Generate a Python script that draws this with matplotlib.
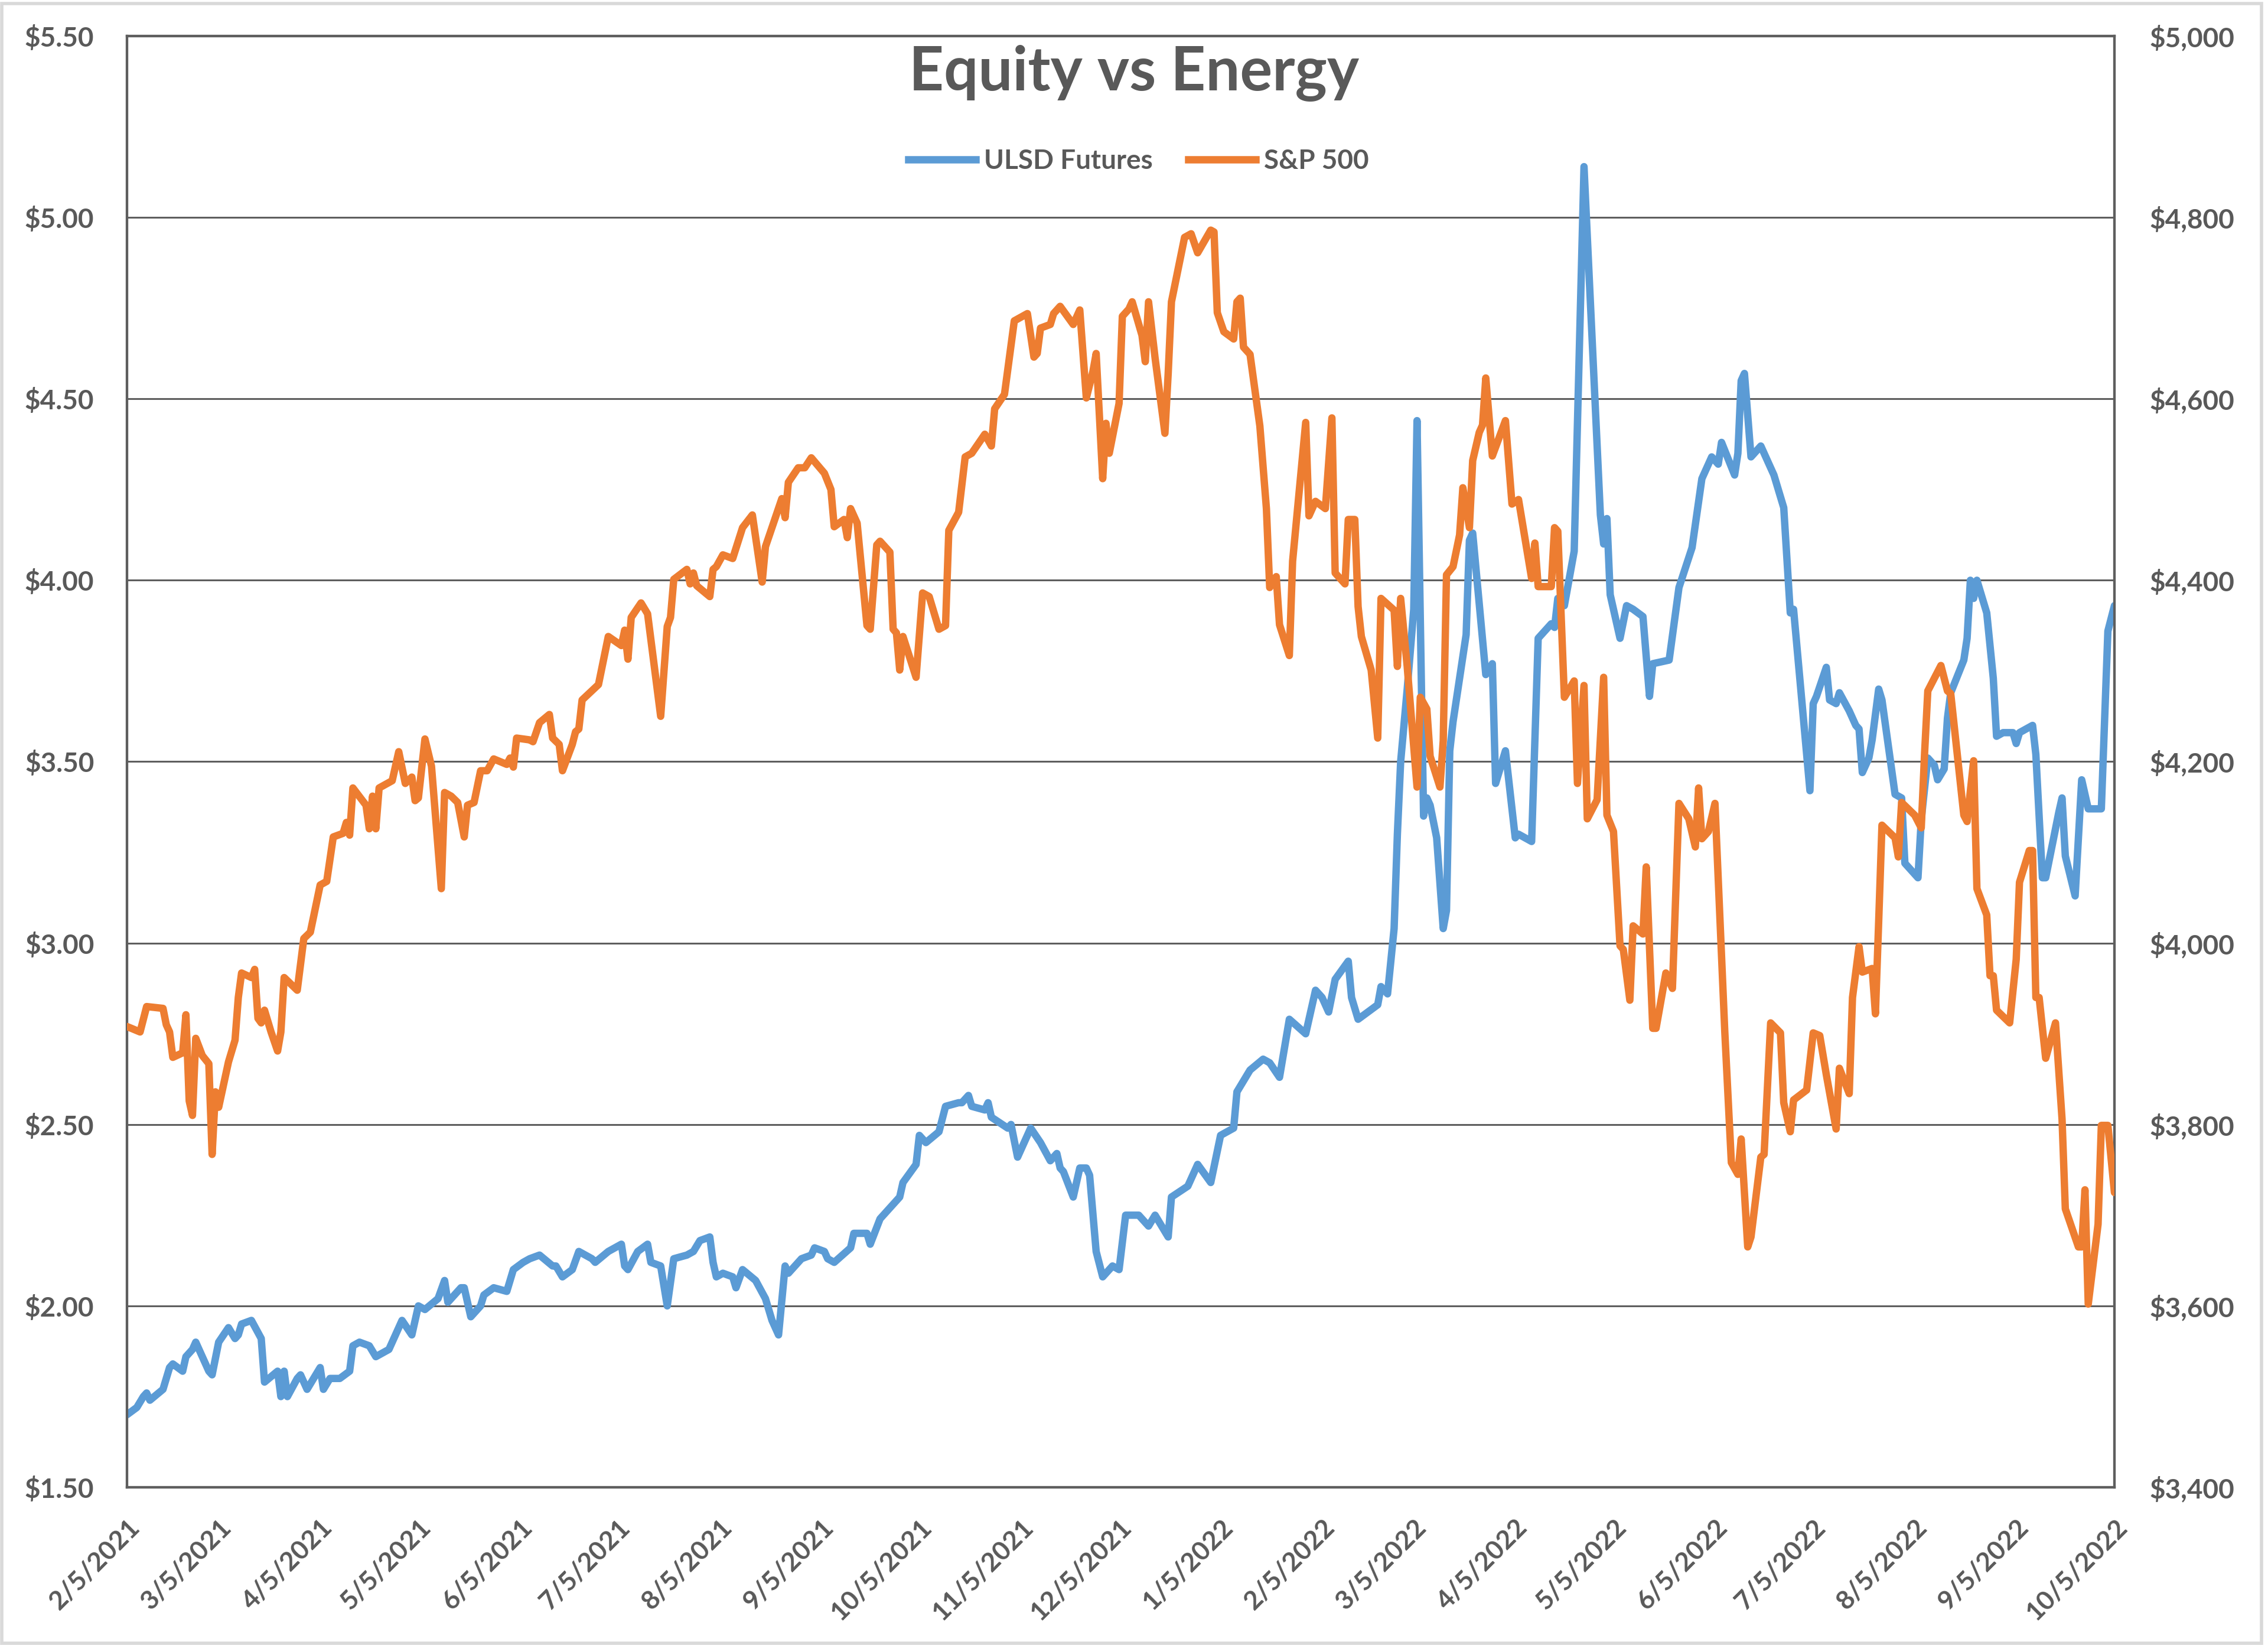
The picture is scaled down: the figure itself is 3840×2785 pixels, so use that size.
import matplotlib
matplotlib.use("Agg")
import matplotlib.pyplot as plt
import matplotlib.ticker as mticker
from matplotlib.lines import Line2D
from matplotlib.patches import Rectangle
import pandas as pd

# ---------------- data ----------------
title = "Equity vs Energy"
series_names = ["ULSD Futures", "S&P 500"]

ulsd_dates = [
    "2021-02-05", "2021-02-08", "2021-02-10", "2021-02-11", "2021-02-12", "2021-02-16", "2021-02-18",
    "2021-02-19", "2021-02-22", "2021-02-23", "2021-02-25", "2021-02-26", "2021-02-28", "2021-03-02",
    "2021-03-03", "2021-03-05", "2021-03-08", "2021-03-10", "2021-03-11", "2021-03-12", "2021-03-15",
    "2021-03-18", "2021-03-19", "2021-03-23", "2021-03-24", "2021-03-25", "2021-03-26", "2021-03-29",
    "2021-03-30", "2021-04-01", "2021-04-05", "2021-04-06", "2021-04-08", "2021-04-11", "2021-04-14",
    "2021-04-15", "2021-04-17", "2021-04-20", "2021-04-22", "2021-04-26", "2021-04-30", "2021-05-03",
    "2021-05-05", "2021-05-07", "2021-05-11", "2021-05-13", "2021-05-14", "2021-05-18", "2021-05-19",
    "2021-05-21", "2021-05-24", "2021-05-25", "2021-05-28", "2021-06-01", "2021-06-03", "2021-06-06",
    "2021-06-08", "2021-06-11", "2021-06-15", "2021-06-16", "2021-06-18", "2021-06-21", "2021-06-23",
    "2021-06-27", "2021-06-28", "2021-07-02", "2021-07-06", "2021-07-07", "2021-07-08", "2021-07-11",
    "2021-07-14", "2021-07-15", "2021-07-18", "2021-07-20", "2021-07-22", "2021-07-26", "2021-07-28",
    "2021-07-30", "2021-08-02", "2021-08-03", "2021-08-04", "2021-08-06", "2021-08-09", "2021-08-10",
    "2021-08-12", "2021-08-16", "2021-08-19", "2021-08-21", "2021-08-23", "2021-08-25", "2021-08-26",
    "2021-08-29", "2021-08-30", "2021-09-02", "2021-09-03", "2021-09-06", "2021-09-07", "2021-09-09",
    "2021-09-14", "2021-09-15", "2021-09-19", "2021-09-20", "2021-09-23", "2021-09-27", "2021-09-29",
    "2021-09-30", "2021-10-04", "2021-10-05", "2021-10-07", "2021-10-11", "2021-10-13", "2021-10-17",
    "2021-10-18", "2021-10-20", "2021-10-21", "2021-10-25", "2021-10-26", "2021-10-27", "2021-11-01",
    "2021-11-02", "2021-11-04", "2021-11-08", "2021-11-11", "2021-11-14", "2021-11-16", "2021-11-17",
    "2021-11-18", "2021-11-21", "2021-11-23", "2021-11-25", "2021-11-26", "2021-11-28", "2021-11-30",
    "2021-12-01", "2021-12-03", "2021-12-05", "2021-12-07", "2021-12-11", "2021-12-14", "2021-12-16",
    "2021-12-20", "2021-12-21", "2021-12-26", "2021-12-29", "2022-01-02", "2022-01-05", "2022-01-09",
    "2022-01-10", "2022-01-14", "2022-01-18", "2022-01-20", "2022-01-23", "2022-01-26", "2022-01-31",
    "2022-02-03", "2022-02-05", "2022-02-07", "2022-02-09", "2022-02-13", "2022-02-14", "2022-02-16",
    "2022-02-22", "2022-02-23", "2022-02-25", "2022-02-27", "2022-02-28", "2022-03-01", "2022-03-03",
    "2022-03-05", "2022-03-06", "2022-03-08", "2022-03-09", "2022-03-10", "2022-03-12", "2022-03-14",
    "2022-03-15", "2022-03-16", "2022-03-17", "2022-03-21", "2022-03-22", "2022-03-23", "2022-03-27",
    "2022-03-29", "2022-03-30", "2022-04-02", "2022-04-05", "2022-04-06", "2022-04-10", "2022-04-12",
    "2022-04-16", "2022-04-17", "2022-04-18", "2022-04-20", "2022-04-23", "2022-04-26", "2022-05-01",
    "2022-05-02", "2022-05-03", "2022-05-04", "2022-05-07", "2022-05-09", "2022-05-11", "2022-05-14",
    "2022-05-16", "2022-05-17", "2022-05-22", "2022-05-25", "2022-05-29", "2022-06-01", "2022-06-04",
    "2022-06-06", "2022-06-07", "2022-06-11", "2022-06-12", "2022-06-13", "2022-06-14", "2022-06-16",
    "2022-06-19", "2022-06-20", "2022-06-23", "2022-06-26", "2022-06-28", "2022-06-29", "2022-07-02",
    "2022-07-04", "2022-07-05", "2022-07-06", "2022-07-09", "2022-07-10", "2022-07-12", "2022-07-13",
    "2022-07-16", "2022-07-18", "2022-07-19", "2022-07-20", "2022-07-22", "2022-07-23", "2022-07-25",
    "2022-07-26", "2022-07-30", "2022-08-01", "2022-08-02", "2022-08-06", "2022-08-07", "2022-08-09",
    "2022-08-11", "2022-08-12", "2022-08-14", "2022-08-15", "2022-08-16", "2022-08-20", "2022-08-21",
    "2022-08-22", "2022-08-23", "2022-08-24", "2022-08-27", "2022-08-29", "2022-08-30", "2022-09-01",
    "2022-09-04", "2022-09-05", "2022-09-06", "2022-09-10", "2022-09-11", "2022-09-13", "2022-09-14",
    "2022-09-18", "2022-09-19", "2022-09-20", "2022-09-23", "2022-09-25", "2022-09-27", "2022-10-01",
    "2022-10-03", "2022-10-05",
]
ulsd_values = [
    1.70, 1.72, 1.75, 1.76, 1.74, 1.77, 1.83,
    1.84, 1.82, 1.86, 1.88, 1.90, 1.86, 1.82,
    1.81, 1.90, 1.94, 1.91, 1.92, 1.95, 1.96,
    1.91, 1.79, 1.82, 1.75, 1.82, 1.75, 1.80,
    1.81, 1.77, 1.83, 1.77, 1.80, 1.80, 1.82,
    1.89, 1.90, 1.89, 1.86, 1.88, 1.96, 1.92,
    2.00, 1.99, 2.02, 2.07, 2.01, 2.05, 2.05,
    1.97, 2.00, 2.03, 2.05, 2.04, 2.10, 2.12,
    2.13, 2.14, 2.11, 2.11, 2.08, 2.10, 2.15,
    2.13, 2.12, 2.15, 2.17, 2.11, 2.10, 2.15,
    2.17, 2.12, 2.11, 2.00, 2.13, 2.14, 2.15,
    2.18, 2.19, 2.12, 2.08, 2.09, 2.08, 2.05,
    2.10, 2.07, 2.02, 1.96, 1.92, 2.11, 2.09,
    2.12, 2.13, 2.14, 2.16, 2.15, 2.13, 2.12,
    2.16, 2.20, 2.20, 2.17, 2.24, 2.28, 2.30,
    2.34, 2.39, 2.47, 2.45, 2.48, 2.55, 2.56,
    2.56, 2.58, 2.55, 2.54, 2.56, 2.52, 2.49,
    2.50, 2.41, 2.49, 2.45, 2.40, 2.42, 2.38,
    2.37, 2.30, 2.38, 2.38, 2.36, 2.15, 2.08,
    2.09, 2.11, 2.10, 2.25, 2.25, 2.22, 2.25,
    2.19, 2.30, 2.33, 2.39, 2.34, 2.47, 2.49,
    2.59, 2.65, 2.68, 2.67, 2.63, 2.79, 2.75,
    2.87, 2.85, 2.81, 2.90, 2.95, 2.85, 2.79,
    2.83, 2.88, 2.86, 3.04, 3.30, 3.50, 3.70,
    3.92, 4.44, 3.35, 3.40, 3.38, 3.29, 3.04,
    3.09, 3.53, 3.61, 3.85, 4.11, 4.13, 3.74,
    3.77, 3.44, 3.53, 3.29, 3.30, 3.28, 3.84,
    3.88, 3.87, 3.95, 3.93, 4.08, 5.14, 4.18,
    4.10, 4.17, 3.96, 3.84, 3.93, 3.92, 3.90,
    3.68, 3.77, 3.78, 3.98, 4.09, 4.28, 4.34,
    4.32, 4.38, 4.29, 4.35, 4.55, 4.57, 4.34,
    4.37, 4.35, 4.29, 4.20, 3.91, 3.92, 3.62,
    3.42, 3.66, 3.68, 3.76, 3.67, 3.66, 3.69,
    3.64, 3.60, 3.59, 3.47, 3.51, 3.56, 3.70,
    3.67, 3.41, 3.40, 3.22, 3.18, 3.34, 3.51,
    3.49, 3.45, 3.48, 3.62, 3.69, 3.78, 3.84,
    4.00, 3.95, 4.00, 3.91, 3.73, 3.57, 3.58,
    3.58, 3.55, 3.58, 3.60, 3.52, 3.18, 3.18,
    3.36, 3.40, 3.24, 3.13, 3.45, 3.37, 3.37,
    3.86, 3.93,
]

spx_dates = [
    "2021-02-05", "2021-02-09", "2021-02-11", "2021-02-16", "2021-02-17", "2021-02-18", "2021-02-19",
    "2021-02-22", "2021-02-23", "2021-02-24", "2021-02-25", "2021-02-26", "2021-02-28", "2021-03-02",
    "2021-03-03", "2021-03-04", "2021-03-05", "2021-03-08", "2021-03-10", "2021-03-11", "2021-03-12",
    "2021-03-15", "2021-03-16", "2021-03-17", "2021-03-18", "2021-03-19", "2021-03-21", "2021-03-23",
    "2021-03-24", "2021-03-25", "2021-03-29", "2021-03-31", "2021-04-02", "2021-04-05", "2021-04-07",
    "2021-04-09", "2021-04-12", "2021-04-13", "2021-04-14", "2021-04-15", "2021-04-19", "2021-04-20",
    "2021-04-21", "2021-04-22", "2021-04-23", "2021-04-27", "2021-04-29", "2021-05-01", "2021-05-03",
    "2021-05-04", "2021-05-05", "2021-05-07", "2021-05-09", "2021-05-12", "2021-05-13", "2021-05-15",
    "2021-05-17", "2021-05-19", "2021-05-20", "2021-05-22", "2021-05-24", "2021-05-26", "2021-05-28",
    "2021-06-01", "2021-06-02", "2021-06-03", "2021-06-04", "2021-06-08", "2021-06-09", "2021-06-11",
    "2021-06-14", "2021-06-15", "2021-06-17", "2021-06-18", "2021-06-21", "2021-06-22", "2021-06-23",
    "2021-06-24", "2021-06-29", "2021-07-02", "2021-07-06", "2021-07-07", "2021-07-08", "2021-07-09",
    "2021-07-12", "2021-07-14", "2021-07-18", "2021-07-20", "2021-07-21", "2021-07-22", "2021-07-26",
    "2021-07-27", "2021-07-28", "2021-07-29", "2021-08-02", "2021-08-03", "2021-08-04", "2021-08-06",
    "2021-08-09", "2021-08-12", "2021-08-15", "2021-08-18", "2021-08-19", "2021-08-24", "2021-08-25",
    "2021-08-26", "2021-08-29", "2021-08-31", "2021-09-02", "2021-09-06", "2021-09-08", "2021-09-09",
    "2021-09-12", "2021-09-13", "2021-09-14", "2021-09-16", "2021-09-19", "2021-09-20", "2021-09-22",
    "2021-09-23", "2021-09-26", "2021-09-27", "2021-09-28", "2021-09-29", "2021-09-30", "2021-10-04",
    "2021-10-06", "2021-10-08", "2021-10-11", "2021-10-13", "2021-10-14", "2021-10-17", "2021-10-19",
    "2021-10-21", "2021-10-25", "2021-10-27", "2021-10-28", "2021-10-31", "2021-11-03", "2021-11-07",
    "2021-11-09", "2021-11-10", "2021-11-11", "2021-11-14", "2021-11-15", "2021-11-17", "2021-11-21",
    "2021-11-23", "2021-11-25", "2021-11-27", "2021-11-28", "2021-11-30", "2021-12-01", "2021-12-02",
    "2021-12-05", "2021-12-06", "2021-12-08", "2021-12-09", "2021-12-12", "2021-12-13", "2021-12-14",
    "2021-12-16", "2021-12-19", "2021-12-20", "2021-12-21", "2021-12-25", "2021-12-27", "2021-12-29",
    "2022-01-02", "2022-01-03", "2022-01-04", "2022-01-06", "2022-01-09", "2022-01-10", "2022-01-11",
    "2022-01-12", "2022-01-14", "2022-01-17", "2022-01-19", "2022-01-20", "2022-01-22", "2022-01-23",
    "2022-01-26", "2022-01-27", "2022-01-31", "2022-02-01", "2022-02-03", "2022-02-06", "2022-02-08",
    "2022-02-09", "2022-02-12", "2022-02-13", "2022-02-15", "2022-02-16", "2022-02-17", "2022-02-20",
    "2022-02-22", "2022-02-23", "2022-02-27", "2022-02-28", "2022-03-01", "2022-03-03", "2022-03-06",
    "2022-03-07", "2022-03-09", "2022-03-10", "2022-03-13", "2022-03-14", "2022-03-15", "2022-03-17",
    "2022-03-19", "2022-03-20", "2022-03-22", "2022-03-23", "2022-03-25", "2022-03-26", "2022-03-27",
    "2022-03-29", "2022-04-02", "2022-04-04", "2022-04-06", "2022-04-10", "2022-04-11", "2022-04-12",
    "2022-04-16", "2022-04-17", "2022-04-18", "2022-04-20", "2022-04-23", "2022-04-24", "2022-04-26",
    "2022-04-27", "2022-04-30", "2022-05-02", "2022-05-03", "2022-05-05", "2022-05-07", "2022-05-08",
    "2022-05-10", "2022-05-11", "2022-05-14", "2022-05-15", "2022-05-17", "2022-05-18", "2022-05-21",
    "2022-05-23", "2022-05-25", "2022-05-28", "2022-05-30", "2022-05-31", "2022-06-01", "2022-06-03",
    "2022-06-05", "2022-06-08", "2022-06-10", "2022-06-12", "2022-06-13", "2022-06-15", "2022-06-16",
    "2022-06-19", "2022-06-20", "2022-06-22", "2022-06-25", "2022-06-26", "2022-06-28", "2022-06-29",
    "2022-07-03", "2022-07-05", "2022-07-07", "2022-07-09", "2022-07-12", "2022-07-13", "2022-07-16",
    "2022-07-17", "2022-07-19", "2022-07-20", "2022-07-23", "2022-07-24", "2022-07-25", "2022-07-26",
    "2022-07-30", "2022-07-31", "2022-08-01", "2022-08-05", "2022-08-07", "2022-08-08", "2022-08-09",
    "2022-08-13", "2022-08-15", "2022-08-16", "2022-08-18", "2022-08-20", "2022-08-21", "2022-08-23",
    "2022-08-24", "2022-08-27", "2022-08-28", "2022-08-29", "2022-08-30", "2022-09-03", "2022-09-05",
    "2022-09-06", "2022-09-09", "2022-09-10", "2022-09-11", "2022-09-12", "2022-09-14", "2022-09-17",
    "2022-09-19", "2022-09-20", "2022-09-24", "2022-09-25", "2022-09-26", "2022-09-27", "2022-09-30",
    "2022-10-01", "2022-10-03", "2022-10-05",
]
spx_values = [
    3908, 3902, 3930, 3928, 3910, 3902, 3874,
    3879, 3921, 3826, 3810, 3895, 3876, 3867,
    3767, 3836, 3819, 3869, 3893, 3940, 3967,
    3962, 3971, 3917, 3912, 3926, 3902, 3881,
    3902, 3962, 3948, 4005, 4012, 4064, 4068,
    4117, 4121, 4133, 4119, 4171, 4152, 4126,
    4162, 4126, 4171, 4179, 4211, 4176, 4183,
    4157, 4160, 4225, 4195, 4060, 4166, 4162,
    4155, 4117, 4152, 4155, 4190, 4190, 4203,
    4197, 4204, 4194, 4226, 4224, 4222, 4243,
    4252, 4226, 4219, 4190, 4219, 4233, 4236,
    4268, 4285, 4338, 4328, 4345, 4313, 4359,
    4375, 4363, 4250, 4349, 4359, 4401, 4412,
    4396, 4408, 4394, 4382, 4412, 4415, 4428,
    4424, 4458, 4472, 4398, 4437, 4490, 4469,
    4508, 4524, 4524, 4535, 4518, 4500, 4459,
    4467, 4447, 4479, 4463, 4350, 4346, 4439,
    4443, 4431, 4346, 4342, 4301, 4338, 4293,
    4386, 4382, 4346, 4350, 4455, 4475, 4536,
    4540, 4561, 4548, 4589, 4605, 4686, 4694,
    4646, 4650, 4678, 4682, 4694, 4702, 4682,
    4698, 4601, 4630, 4650, 4512, 4573, 4540,
    4595, 4691, 4699, 4707, 4670, 4641, 4707,
    4645, 4562, 4628, 4707, 4778, 4782, 4761,
    4786, 4784, 4695, 4674, 4666, 4707, 4711,
    4657, 4649, 4570, 4479, 4392, 4404, 4351,
    4317, 4421, 4574, 4471, 4487, 4479, 4579,
    4408, 4396, 4467, 4467, 4371, 4338, 4301,
    4226, 4380, 4367, 4305, 4380, 4305, 4172,
    4271, 4258, 4206, 4172, 4223, 4406, 4415,
    4450, 4502, 4458, 4532, 4563, 4571, 4623,
    4537, 4576, 4484, 4489, 4402, 4441, 4393,
    4393, 4458, 4454, 4271, 4289, 4176, 4284,
    4137, 4158, 4293, 4141, 4123, 3997, 3993,
    3937, 4019, 4010, 4084, 3906, 3906, 3967,
    3950, 4154, 4137, 4106, 4171, 4115, 4123,
    4154, 3902, 3758, 3745, 3784, 3665, 3676,
    3764, 3767, 3912, 3901, 3824, 3792, 3827,
    3838, 3901, 3898, 3855, 3795, 3862, 3834,
    3940, 3996, 3968, 3972, 3922, 4024, 4130,
    4116, 4095, 4155, 4141, 4127, 4208, 4278,
    4306, 4278, 4275, 4208, 4141, 4134, 4201,
    4060, 4031, 3964, 3964, 3926, 3912, 3982,
    4067, 4102, 4102, 3940, 3940, 3873, 3912,
    3806, 3707, 3665, 3665, 3728, 3602, 3690,
    3799, 3799, 3725,
]

left_ticks = [1.50, 2.00, 2.50, 3.00, 3.50, 4.00, 4.50, 5.00, 5.50]
right_ticks = [3400, 3600, 3800, 4000, 4200, 4400, 4600, 4800, 5000]
x_tick_dates = [
    "2021-02-05", "2021-03-05", "2021-04-05", "2021-05-05", "2021-06-05", "2021-07-05",
    "2021-08-05", "2021-09-05", "2021-10-05", "2021-11-05", "2021-12-05", "2022-01-05",
    "2022-02-05", "2022-03-05", "2022-04-05", "2022-05-05", "2022-06-05", "2022-07-05",
    "2022-08-05", "2022-09-05", "2022-10-05",
]

# ---------------- styling ----------------
BLUE = "#5b9bd5"
ORANGE = "#ed7d31"
TEXT = "#595959"
GRID = "#5e5e5e"
FONT = "Lato"

plt.rcParams["font.family"] = [FONT, "DejaVu Sans"]

fig = plt.figure(figsize=(38.4, 27.85), dpi=100)
fig.patch.set_facecolor("white")

ax = fig.add_axes([0.05599, 0.09587, 0.87630, 0.88223])
ax2 = ax.twinx()

u_x = pd.to_datetime(ulsd_dates)
s_x = pd.to_datetime(spx_dates)

ax.plot(u_x, ulsd_values, color=BLUE, lw=9, solid_joinstyle="round",
        solid_capstyle="round", zorder=3)
ax2.plot(s_x, spx_values, color=ORANGE, lw=9, solid_joinstyle="round",
         solid_capstyle="round", zorder=3)

# axes limits / ticks
tick_dt = pd.to_datetime(x_tick_dates)
ax.set_xlim(tick_dt[0], tick_dt[-1])
ax.set_ylim(left_ticks[0], left_ticks[-1])
ax2.set_ylim(right_ticks[0], right_ticks[-1])

ax.set_yticks(left_ticks)
ax.yaxis.set_major_formatter(mticker.FuncFormatter(lambda v, p: f"${v:.2f}"))
ax2.set_yticks(right_ticks)
ax2.yaxis.set_major_formatter(mticker.FuncFormatter(lambda v, p: f"${v:,.0f}"))

ax.set_xticks(tick_dt)
ax.set_xticklabels([f"{d.month}/{d.day}/{d.year}" for d in tick_dt])

ax.yaxis.grid(True, color=GRID, lw=2.2)
ax.set_axisbelow(True)

for a in (ax, ax2):
    for s in a.spines.values():
        s.set_color(GRID)
        s.set_linewidth(3.0)

ax.tick_params(axis="y", length=0, pad=40, labelsize=33, labelcolor=TEXT)
ax2.tick_params(axis="y", length=0, pad=43, labelsize=33, labelcolor=TEXT)
ax.tick_params(axis="x", length=0, pad=34, labelsize=32, labelcolor=TEXT)
for lbl in ax.get_yticklabels() + ax2.get_yticklabels():
    lbl.set_fontweight("bold")
for lbl in ax.get_xticklabels():
    lbl.set_rotation(45)
    lbl.set_ha("right")
    lbl.set_va("top")
    lbl.set_rotation_mode("anchor")
    lbl.set_fontweight("bold")

# title
fig.text(0.5, 0.9555, title, ha="center", va="center", fontsize=74,
         fontweight="bold", color=TEXT)

# legend
handles = [Line2D([], [], color=BLUE, lw=9), Line2D([], [], color=ORANGE, lw=9)]
leg = fig.legend(handles, series_names, loc="center", bbox_to_anchor=(0.502, 0.902),
                 ncol=2, frameon=False, handlelength=2.5, handletextpad=0.3,
                 columnspacing=1.3, prop={"family": FONT, "size": 33, "weight": "bold"})
for t in leg.get_texts():
    t.set_color(TEXT)

# outer chart border
fig.add_artist(Rectangle((0.0008, 0.0011), 0.9964, 0.9968, transform=fig.transFigure,
                         fill=False, edgecolor="#d9d9d9", lw=4))

fig.savefig("out.png", dpi=100, facecolor="white")
